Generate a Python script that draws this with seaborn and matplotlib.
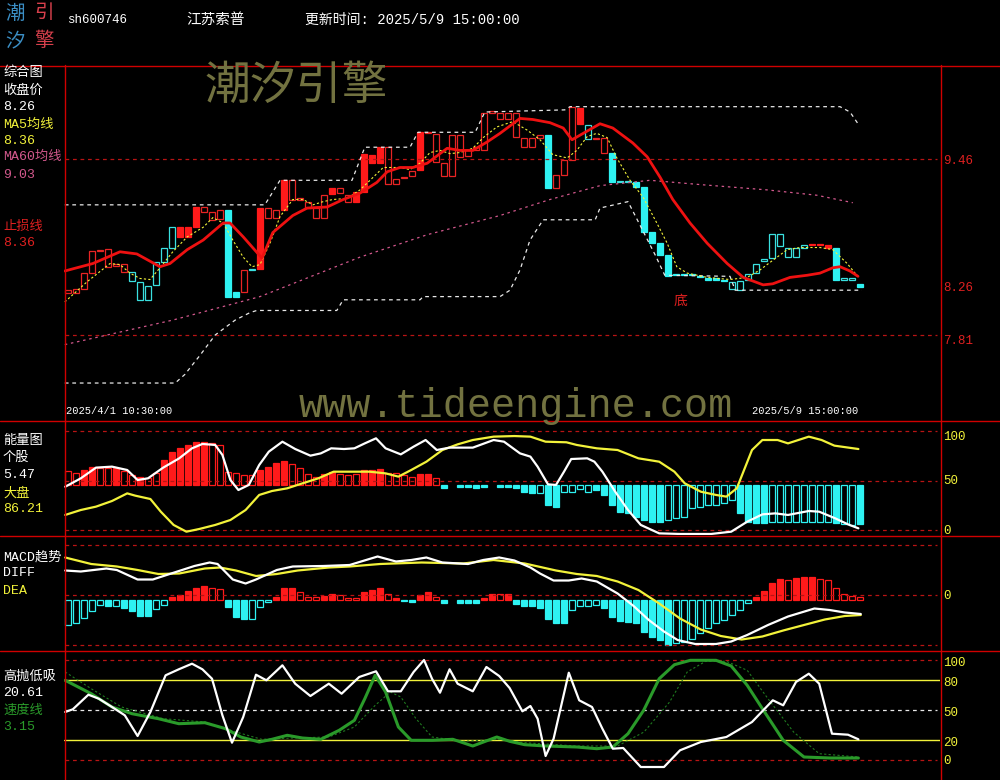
import numpy as np
import matplotlib
matplotlib.use("Agg")
import matplotlib.pyplot as plt
import seaborn as sns

# ---------------- values ----------------
# price boxes of the 100 hourly bars (2025/4/1 10:30 .. 2025/5/9 15:00)
box_lo = [8.20, 8.20, 8.24, 8.39, 8.60, 8.45, 8.46, 8.40, 8.32, 8.14,
          8.14, 8.28, 8.49, 8.63, 8.73, 8.73, 8.82, 8.96, 8.89, 8.90,
          8.17, 8.17, 8.21, 8.42, 8.43, 8.91, 8.91, 8.98, 9.08, 9.08,
          9.00, 8.91, 8.91, 9.13, 9.14, 9.06, 9.06, 9.15, 9.42, 9.42,
          9.23, 9.23, 9.28, 9.30, 9.36, 9.70, 9.43, 9.30, 9.30, 9.48,
          9.49, 9.54, 9.54, 9.89, 9.83, 9.83, 9.67, 9.57, 9.57, 9.66,
          9.19, 9.19, 9.31, 9.45, 9.79, 9.65, 9.65, 9.52, 9.24, 9.24,
          9.24, 9.20, 8.78, 8.67, 8.56, 8.36, 8.37, 8.37, 8.37, 8.35,
          8.33, 8.33, 8.32, 8.24, 8.23, 8.33, 8.39, 8.50, 8.53, 8.64,
          8.54, 8.54, 8.63, 8.65, 8.65, 8.63, 8.33, 8.33, 8.33, 8.26]
box_hi = [8.23, 8.24, 8.39, 8.60, 8.61, 8.62, 8.48, 8.48, 8.40, 8.31,
          8.27, 8.49, 8.63, 8.82, 8.82, 8.82, 9.01, 9.01, 8.96, 8.98,
          8.98, 8.21, 8.42, 8.43, 9.00, 9.00, 8.98, 9.26, 9.26, 9.09,
          9.06, 9.00, 9.12, 9.19, 9.19, 9.12, 9.15, 9.51, 9.50, 9.57,
          9.57, 9.27, 9.29, 9.35, 9.71, 9.71, 9.69, 9.42, 9.68, 9.68,
          9.54, 9.57, 9.89, 9.91, 9.89, 9.89, 9.89, 9.66, 9.66, 9.68,
          9.68, 9.31, 9.45, 9.95, 9.94, 9.78, 9.66, 9.66, 9.52, 9.25,
          9.25, 9.24, 9.20, 8.78, 8.67, 8.56, 8.38, 8.38, 8.38, 8.36,
          8.34, 8.34, 8.33, 8.31, 8.32, 8.38, 8.48, 8.52, 8.76, 8.76,
          8.63, 8.63, 8.65, 8.66, 8.66, 8.65, 8.63, 8.34, 8.34, 8.29]
# R/r = red filled/hollow, C/c = cyan filled/hollow
candle_kind = ("rrrrrrrrcc" "ccccRRRrrr" "CCrcRrrRrr" "rrrRrrRRRR" "rrrrRrrrrr"
               "rrrrrrrrrr" "CrrrRcrrCc" "cCCCCCCCCC" "CCCccccccc" "cccRRRCccC")

# line vertices: bar index, value
stop_x = [-0.4, 3.1, 6.5, 8.6, 11.5, 12.75, 14.9, 16.9, 19.4, 20.25,
          21.9, 24.25, 25.6, 28.1, 29.9, 32.4, 34.4, 36.5, 38.6, 39.9,
          41.5, 43.1, 44.9, 47.4, 49, 50.6, 52.4, 54, 56.5, 58.1,
          60.25, 61.9, 63, 64.4, 66.5, 68.1, 70.6, 72.4, 74, 75.6,
          77.75, 79.9, 82.4, 84.4, 86.9, 88.1, 90.25, 92.4, 94, 95.6,
          96.5, 97.75, 98.75]
stop_y = [8.41, 8.48, 8.59, 8.57, 8.45, 8.48, 8.61, 8.70, 8.86, 8.86,
          8.73, 8.53, 8.77, 8.93, 9.00, 9.01, 9.08, 9.14, 9.24, 9.34,
          9.38, 9.38, 9.42, 9.56, 9.54, 9.54, 9.62, 9.70, 9.84, 9.83,
          9.80, 9.75, 9.64, 9.70, 9.79, 9.75, 9.61, 9.48, 9.29, 9.08,
          8.86, 8.67, 8.48, 8.35, 8.28, 8.29, 8.35, 8.37, 8.39, 8.44,
          8.45, 8.41, 8.36]

ma5_x = [-0.4, 2.4, 5.25, 6.5, 7.75, 9, 10.25, 11.5, 13.1, 14.9,
         16.9, 18.1, 19.4, 20.6, 21.9, 23, 24, 25.25, 26.5, 28.1,
         29.4, 30.6, 31.9, 33.1, 34.9, 36.5, 37.75, 39.4, 41.5, 42.75,
         44, 45.25, 46.5, 47.75, 49, 50.6, 51.9, 53.6, 55.6, 57.4,
         59, 60.6, 62.4, 63.6, 64.9, 66.1, 67.4, 68.6, 70.25, 71.9,
         73.6, 74.9, 76.1, 77.4, 79.9, 82.75, 84.9, 86.5, 88.1, 89.9,
         91.5, 94, 95.6, 97.4, 98.6]
ma5_y = [8.12, 8.31, 8.48, 8.47, 8.39, 8.34, 8.33, 8.44, 8.59, 8.73,
         8.82, 8.91, 8.86, 8.70, 8.54, 8.45, 8.47, 8.67, 8.92, 9.08,
         9.08, 9.03, 9.06, 9.08, 9.09, 9.17, 9.26, 9.38, 9.38, 9.36,
         9.42, 9.52, 9.54, 9.51, 9.52, 9.56, 9.66, 9.76, 9.81, 9.73,
         9.64, 9.50, 9.47, 9.54, 9.67, 9.70, 9.66, 9.47, 9.26, 9.10,
         8.86, 8.67, 8.45, 8.39, 8.35, 8.33, 8.35, 8.42, 8.51, 8.61,
         8.63, 8.63, 8.61, 8.48, 8.37]

ma60_x = [-0.4, 13.1, 24, 36.5, 44.9, 54, 60.25, 66.5, 72.75, 79, 87.4, 93.6, 98.1]
ma60_y = [7.72, 7.95, 8.17, 8.54, 8.75, 8.93, 9.08, 9.21, 9.26, 9.22, 9.17, 9.12, 9.05]

up_x = [-0.4, 24.6, 26.5, 35.5, 37.1, 42.75, 43.75, 50.9, 52.1, 62.1, 62.75, 96.5, 97.75, 98.75]
up_y = [9.03, 9.03, 9.26, 9.26, 9.57, 9.57, 9.71, 9.71, 9.90, 9.92, 9.95, 9.95, 9.90, 9.79]

low_x = [-0.4, 13.4, 14.6, 16.5, 18.4, 20.9, 22.75, 23.6, 33.6, 34.4, 44, 44.4, 54,
         55.25, 56.5, 57.75, 59.4, 65.9, 66.5, 70, 71.5, 73.4, 74.6, 82.75, 83.4, 99.25]
low_y = [7.36, 7.36, 7.44, 7.62, 7.81, 7.95, 8.02, 8.04, 8.04, 8.14, 8.14, 8.17, 8.17,
         8.23, 8.42, 8.70, 8.89, 8.89, 9.00, 9.06, 8.84, 8.56, 8.37, 8.36, 8.23, 8.23]

# 能量图
energy_hist = [59.6, 57.2, 60.6, 64.0, 62.3, 62.3, 62.3, 59.6, 55.6, 53.9,
               52.2, 57.2, 70.7, 79.1, 82.5, 85.9, 88.6, 88.6, 87.5, 85.9,
               58.9, 57.2, 55.6, 55.6, 60.6, 64.0, 67.3, 69.7, 66.3, 63.0,
               56.2, 53.9, 56.2, 58.9, 56.2, 55.6, 56.2, 60.6, 60.6, 61.6,
               57.2, 57.2, 55.6, 53.9, 56.2, 56.2, 52.2, 42.7, 45.5, 43.8,
               43.1, 42.1, 43.8, 45.5, 43.8, 43.8, 42.1, 38.7, 37.0, 37.0,
               25.3, 23.6, 38.7, 38.7, 41.1, 38.7, 40.4, 35.4, 25.3, 18.5,
               16.8, 13.5, 10.1, 8.4, 8.4, 10.1, 11.8, 13.5, 21.9, 23.6,
               25.3, 25.3, 27.0, 30.3, 16.8, 8.4, 6.7, 6.7, 8.4, 8.4,
               8.4, 8.4, 8.4, 8.4, 8.4, 7.7, 6.7, 5.7, 5.0, 5.7]
energy_fill = ("hhffhhfhhf" "hhffffffhh" "hhhhffffhh" "hhffhhhfff" "hhhhffhfhf"
               "fffhfffffh" "ffhhhhffff" "fffffhhhhh" "hhhhffffhh" "hhhhhhfhhf")
ENERGY_BASE = 45.5

ew_x = [-0.35, 1.6, 3.5, 5.5, 7.4, 8.7, 10, 11.9, 13.9, 15.5,
        16.8, 18.4, 19.3, 20.3, 21.3, 22.6, 23.9, 25.1, 26.8, 28.4,
        30.3, 31.6, 32.9, 34.5, 35.8, 37.1, 38.5, 39.7, 41.6, 43.2,
        44.7, 46.1, 47.7, 50.6, 53.2, 54.5, 56.5, 57.8, 58.7, 60,
        61, 62, 62.9, 64.9, 65.8, 66.8, 68.4, 70, 71.6, 73.9,
        76.5, 80.4, 82.9, 84.9, 86.8, 88.4, 90, 92.6, 93.9, 95.9,
        97.5, 98.8]
ew_y = [43.7, 52.2, 63, 64, 60.6, 50.5, 52.2, 63, 72.4, 82.5,
        86.9, 85.9, 75.8, 50.5, 40.4, 45.5, 65.7, 79.1, 89.2, 81.8,
        75.1, 77.4, 82.5, 81.8, 82.5, 87.5, 92.6, 82.5, 76.4, 84.2,
        90.9, 80.8, 83.2, 83.2, 90.9, 89.2, 77.4, 74.1, 64, 46.1,
        45.5, 58.9, 71.7, 72.4, 69, 58.9, 38.7, 20.2, 5.1, -3.4,
        -4, -4, -1.7, 8.4, 15.8, 16.8, 15.2, 19.2, 18.5, 11.8,
        5.7, 1.7]

ey_x = [-0.35, 1.6, 3.5, 5.5, 7.4, 8.4, 10.3, 11.6, 13.2, 14.8,
        16.4, 18.4, 20.3, 22.2, 23.9, 25.5, 27.4, 29.3, 31.3, 33.2,
        35.2, 37.7, 39.7, 41.3, 42.9, 44.8, 46.8, 48.7, 50.6, 53.2,
        55.8, 57.8, 59.7, 62.3, 63.6, 66.1, 68.7, 71.3, 73.9, 75.8,
        77.1, 79.1, 81, 82.3, 83.6, 85.5, 86.8, 88.7, 90, 92.6,
        94.2, 95.8, 98.8]
ey_y = [15.2, 20.2, 23.6, 29.3, 37, 34.7, 31.3, 18.5, 5.1, -1.7,
        1, 5.1, 10.1, 20.2, 35.4, 39.4, 42.1, 47.1, 52.2, 58.9,
        58.9, 58.9, 57.2, 53.9, 60.6, 69, 80.8, 86.5, 90.9, 94.3,
        94.9, 94.3, 89.2, 88.6, 85.9, 82.5, 80.8, 72.4, 69, 58.9,
        47.1, 38.7, 35.4, 33.7, 42.1, 80.8, 90.9, 90.9, 87.5, 94.3,
        90.9, 85.2, 81.8]

# MACD趋势
macd_hist = [-0.060, -0.056, -0.046, -0.032, -0.020, -0.022, -0.022, -0.026, -0.032, -0.042,
             -0.042, -0.028, -0.020, -0.004, 0.000, 0.008, 0.014, 0.018, 0.014, 0.012,
             -0.024, -0.044, -0.048, -0.048, -0.024, -0.014, -0.004, 0.014, 0.014, 0.006,
             -0.004, -0.004, -0.002, 0.002, 0.000, -0.006, -0.006, 0.006, 0.010, 0.014,
             0.002, -0.006, -0.012, -0.014, 0.000, 0.006, -0.004, -0.016, -0.010, -0.016,
             -0.016, -0.016, -0.006, 0.002, 0.002, 0.002, -0.018, -0.022, -0.022, -0.026,
             -0.048, -0.056, -0.056, -0.030, -0.022, -0.022, -0.020, -0.026, -0.044, -0.052,
             -0.054, -0.056, -0.074, -0.084, -0.090, -0.100, -0.096, -0.094, -0.088, -0.076,
             -0.066, -0.056, -0.050, -0.040, -0.030, -0.016, -0.004, 0.008, 0.024, 0.032,
             0.030, 0.034, 0.036, 0.036, 0.032, 0.030, 0.014, 0.002, -0.002, -0.004]
macd_fill = ("hhhhhfhfff" "fhhfffffhh" "fffhhhfffh" "hhffhhhfff" "hfffffhfff"
             "ffffhfffff" "fffhhhhfff" "ffffffhhhh" "hhhhhhffff" "hfffhhhhhh")
MACD_BASE = -0.010

dif_x = [-0.35, 1.6, 4.8, 6.1, 8.7, 10.6, 12.9, 15.8, 17.7, 18.7,
         20.6, 22.2, 23.5, 26.1, 28.1, 31.9, 35.2, 38.7, 41, 42.9,
         44.8, 46.8, 50, 51.9, 53.9, 55.8, 57.8, 59, 60.7, 62.6,
         64.2, 66.1, 68.7, 70.7, 72.6, 74.5, 76.2, 78.4, 81, 82.9,
         84.9, 87.5, 90, 93.3, 95.2, 97.1, 99.1]
dif_y = [0.049, 0.047, 0.053, 0.050, 0.031, 0.031, 0.043, 0.058, 0.065, 0.062,
         0.031, 0.023, 0.031, 0.050, 0.057, 0.058, 0.060, 0.077, 0.067, 0.070,
         0.075, 0.065, 0.062, 0.070, 0.075, 0.069, 0.055, 0.043, 0.029, 0.029,
         0.033, 0.027, 0.003, -0.022, -0.050, -0.073, -0.090, -0.098, -0.098, -0.093,
         -0.080, -0.060, -0.043, -0.027, -0.030, -0.035, -0.038]
dea_x = [-0.35, 2.9, 6.1, 8.7, 11.3, 13.9, 17.1, 19, 21, 23.5,
         26.1, 28.7, 32.6, 35.2, 39, 44.2, 49.4, 53.2, 57.1, 61,
         63.6, 66.1, 68.7, 71.3, 73.9, 76.5, 79.1, 81.6, 84.2, 86.8,
         89.4, 92, 94.6, 97.1, 99.1]
dea_y = [0.075, 0.062, 0.057, 0.050, 0.042, 0.043, 0.053, 0.055, 0.049, 0.038,
         0.042, 0.049, 0.055, 0.057, 0.062, 0.065, 0.063, 0.070, 0.063, 0.049,
         0.042, 0.038, 0.027, 0.010, -0.017, -0.047, -0.069, -0.082, -0.089, -0.083,
         -0.071, -0.060, -0.049, -0.042, -0.040]

# 高抛低吸 / 速度线
hw_x = [-0.35, 0.6, 2.55, 3.85, 5.5, 7.1, 8.7, 10.3, 12.2, 13.85,
        15.5, 16.8, 18, 19.3, 20.5, 21.9, 23.5, 24.8, 26.8, 28.4,
        30.3, 32.6, 34.2, 36.4, 38.5, 40, 41.6, 43.2, 44.5, 45.5,
        46.5, 47.7, 48.7, 50.6, 52.3, 53.9, 55.2, 56.8, 57.8, 58.7,
        59.7, 60.7, 62.6, 63.9, 65.5, 66.8, 68.1, 69.4, 71.6, 74.5,
        76.5, 79.1, 82.3, 85.5, 88.1, 89.4, 91, 92.6, 93.9, 95.5,
        97.5, 98.8]
hw_y = [48, 50.7, 65.3, 61.3, 53, 44.7, 24, 48, 84.7, 90.7,
        96.3, 90.7, 81.3, 44.7, 17.3, 43, 85.3, 79.7, 94.7, 76.3,
        64, 76.3, 66.3, 83, 88.7, 68.7, 68.7, 88, 100, 81.3,
        67.3, 90.7, 76.3, 68.7, 93, 84, 72, 48.7, 54, 41.3,
        4, 21.3, 87.3, 59.7, 53, 31.3, 11.3, 12, -7, -7,
        9.7, 18, 23, 38, 59.7, 54.7, 78, 86.3, 76.3, 26.3,
        25.3, 20.7]
gs_x = [-0.35, 2.9, 5.5, 8, 11.3, 13.85, 17.1, 19.7, 21.6, 23.9,
        25.5, 27.4, 29.3, 31.6, 33.9, 35.8, 37.1, 38.4, 39.7, 41.3,
        42.9, 45.5, 48.1, 50.6, 53.6, 55.2, 57.1, 59.7, 63.6, 66.1,
        68.1, 70, 71.96, 73.9, 75.8, 77.8, 81, 82.9, 84.9, 86.8,
        89.4, 92, 95.2, 98.8]
gs_y = [79.7, 66.3, 53, 46.3, 41.3, 36.3, 37.3, 31.3, 23, 18,
        20.7, 24.7, 22, 20.7, 29.7, 39.7, 61.3, 84.7, 68, 33,
        19.7, 19.7, 20.7, 14, 23, 18.7, 15.3, 14, 13, 11.3,
        13, 26.3, 49.7, 81.3, 95.3, 99.7, 99.7, 94, 74.7, 51.3,
        19.7, 3, 2, 2]
gd_x = [-0.35, 2.9, 6.7, 11.9, 17.1, 21, 24.2, 28.1, 32.6, 35.8,
        38.4, 40.3, 41.6, 43.5, 45.5, 49.4, 53.9, 57.1, 63.6, 68.7,
        72, 75.2, 77.4, 79.7, 82.3, 84.9, 87.5, 90.7, 93.9, 98.8]
gd_y = [88, 71.3, 53, 41.3, 38, 28, 20.7, 22, 23, 33,
        54.7, 68, 63, 41.3, 23, 18.7, 20.7, 17.3, 14, 14,
        28, 58, 88, 98.7, 98.7, 89.7, 61.3, 28, 6.3, 3]

# ---------------- styling ----------------
RED = '#ff1a1a'
FRAME = '#d00000'
GRID = '#b81414'
CYAN = '#2ef2f2'
YELLOW = '#f2f23a'
PINK = '#d2588c'
GREEN = '#2a9a2a'
OLIVE = '#727240'
CJK = 'Noto Sans CJK SC'
MIX = ['Liberation Mono', 'Noto Sans CJK SC']

sns.set_theme(style='dark', rc={'axes.facecolor': 'black', 'figure.facecolor': 'black'})
plt.rcParams['font.family'] = MIX

W, H = 1000, 780
fig = plt.figure(figsize=(10, 7.8), dpi=100)
fig.patch.set_facecolor('black')


def panel(top, bottom, y_at_bottom, y_at_top):
    ax = fig.add_axes([64 / W, (H - bottom) / H, 876 / W, (bottom - top) / H])
    ax.set_axis_off()
    ax.set_xlim(-0.5, 109)
    ax.set_ylim(y_at_bottom, y_at_top)
    return ax


def line(ax, xs, ys, color, lw, ls='-'):
    sns.lineplot(x=xs, y=ys, ax=ax, color=color, linewidth=lw, linestyle=ls,
                 sort=False, estimator=None, legend=False)


def hline(ax, y, color=GRID, ls=(0, (3, 3)), lw=0.9):
    ax.axhline(y, xmin=0.001, xmax=0.997, color=color, linestyle=ls, linewidth=lw)


def bars(ax, x, top, base, fill, up_col, dn_col, width=0.74):
    top = np.asarray(top)
    fill = np.array(list(fill))
    for col, m_col in [(up_col, top > base), (dn_col, top < base)]:
        for filled in (True, False):
            m = m_col & ((fill == 'f') == filled)
            ax.bar(x[m], top[m] - base, bottom=base, width=width,
                   color=col if filled else 'none', edgecolor=col, linewidth=0.9)


x = np.arange(len(box_lo))

# main price panel: 8.26 at y=287px, 106.7 px per yuan
price = lambda py: 8.26 + (287 - py) / 106.7
ax_m = panel(65, 420, price(420), price(65))
hline(ax_m, 9.46)
hline(ax_m, 7.81)
lo = np.array(box_lo)
hi = np.array(box_hi)
kind = np.array(list(candle_kind))
for k, col, filled in [('R', RED, True), ('r', '#e82424', False),
                       ('C', CYAN, True), ('c', '#3ae0e0', False)]:
    m = kind == k
    ax_m.bar(x[m], np.maximum(hi[m] - lo[m], 0.008), bottom=lo[m], width=0.78,
             color=col if filled else 'none', edgecolor=col, linewidth=0.9)
line(ax_m, ma60_x, ma60_y, PINK, 0.9, (0, (2, 3)))
line(ax_m, up_x, up_y, '#e8e8e8', 0.9, (0, (3, 3)))
line(ax_m, low_x, low_y, '#e8e8e8', 0.9, (0, (3, 3)))
line(ax_m, ma5_x, ma5_y, YELLOW, 0.8, (0, (2, 2)))
line(ax_m, stop_x, stop_y, '#ee1111', 2.0)

# energy panel: 0..100 scale
ax_e = panel(420, 535, (530 - 535) / 0.99, (530 - 420) / 0.99)
for v in (100, 50, 0):
    hline(ax_e, v)
bars(ax_e, x, energy_hist, ENERGY_BASE, energy_fill, RED, CYAN)
line(ax_e, ey_x, ey_y, YELLOW, 1.6)
line(ax_e, ew_x, ew_y, 'white', 1.6)

# MACD panel
ax_d = panel(535, 650, (595 - 650) / 500, (595 - 535) / 500)
for v in (0.1, 0.0, -0.1):
    hline(ax_d, v)
bars(ax_d, x, macd_hist, MACD_BASE, macd_fill, RED, CYAN)
line(ax_d, dea_x, dea_y, YELLOW, 1.6)
line(ax_d, dif_x, dif_y, 'white', 1.6)

# 高抛低吸 panel
ax_o = panel(650, 780, -20, 110)
hline(ax_o, 100)
hline(ax_o, 0)
ax_o.axhline(80, color=YELLOW, linewidth=1.0)
ax_o.axhline(20, color=YELLOW, linewidth=1.0)
hline(ax_o, 50, color='#e8e8e8')
line(ax_o, gd_x, gd_y, '#1f7a1f', 0.8, (0, (2, 2)))
line(ax_o, gs_x, gs_y, GREEN, 2.2)
line(ax_o, hw_x, hw_y, 'white', 1.6)

# ---------------- frame and texts (pixel overlay) ----------------
ov = fig.add_axes([0, 0, 1, 1], zorder=10)
ov.set_axis_off()
ov.set_xlim(0, W)
ov.set_ylim(H, 0)

ov.text(296, 86, '潮汐引擎', color=OLIVE, fontsize=33, family=CJK, ha='center', va='center')
ov.text(299, 406, 'www.tideengine.com', color=OLIVE, fontsize=29, family='Liberation Mono',
        ha='left', va='center')

for yy in (65.5, 420.5, 535.5, 650.5):
    ov.plot([0, W], [yy, yy], color=FRAME, linewidth=1.0)
for xx in (64.5, 940.5):
    ov.plot([xx, xx], [65, H], color=FRAME, linewidth=1.0)


def txt(xp, yp, s, color='white', size=9.5, family=MIX, ha='left'):
    ov.text(xp, yp, s, color=color, fontsize=size, family=family, ha=ha, va='center')


# logo and header
txt(15, 13, '潮', '#3b8ec4', 14, CJK, 'center')
txt(44, 13, '引', '#d8404c', 14, CJK, 'center')
txt(15, 41, '汐', '#3b8ec4', 14, CJK, 'center')
txt(44, 41, '擎', '#d8404c', 14, CJK, 'center')
txt(67, 20, 'sh600746', size=9)
txt(186, 20, '江苏索普', size=10.5, family=CJK)
txt(305, 20, '更新时间: 2025/5/9 15:00:00', size=10)

# left legend column
for s, yp, c in [('综合图', 73, 'white'), ('收盘价', 90.5, 'white'), ('8.26', 107.5, 'white'),
                 ('MA5均线', 124.7, YELLOW), ('8.36', 141.5, YELLOW),
                 ('MA60均线', 157, PINK), ('9.03', 175, PINK),
                 ('止损线', 227, '#e02020'), ('8.36', 243, '#e02020'),
                 ('能量图', 441, 'white'), ('个股', 458, 'white'), ('5.47', 475.5, 'white'),
                 ('大盘', 493, YELLOW), ('86.21', 509.5, YELLOW),
                 ('MACD趋势', 557, 'white'), ('DIFF', 573.5, 'white'), ('DEA', 590.5, YELLOW),
                 ('高抛低吸', 677, 'white'), ('20.61', 693.5, 'white'),
                 ('速度线', 711, GREEN), ('3.15', 727.5, GREEN)]:
    txt(3, yp, s, c)

# right axis labels
for s, yp in [('9.46', 161), ('8.26', 288), ('7.81', 340.5)]:
    txt(943, yp, s, '#e02020', 9)
for s, yp in [('100', 437), ('50', 481.5), ('0', 531), ('0', 596), ('100', 662.5),
              ('80', 682.5), ('50', 712.5), ('20', 742.5), ('0', 760.5)]:
    txt(943, yp, s, YELLOW, 9)

txt(66, 411, '2025/4/1 10:30:00', size=7.5)
txt(752, 411, '2025/5/9 15:00:00', size=7.5)
txt(680, 301, '底', '#e02020', 10, CJK, 'center')

fig.savefig('out.png', dpi=100, facecolor='black')
